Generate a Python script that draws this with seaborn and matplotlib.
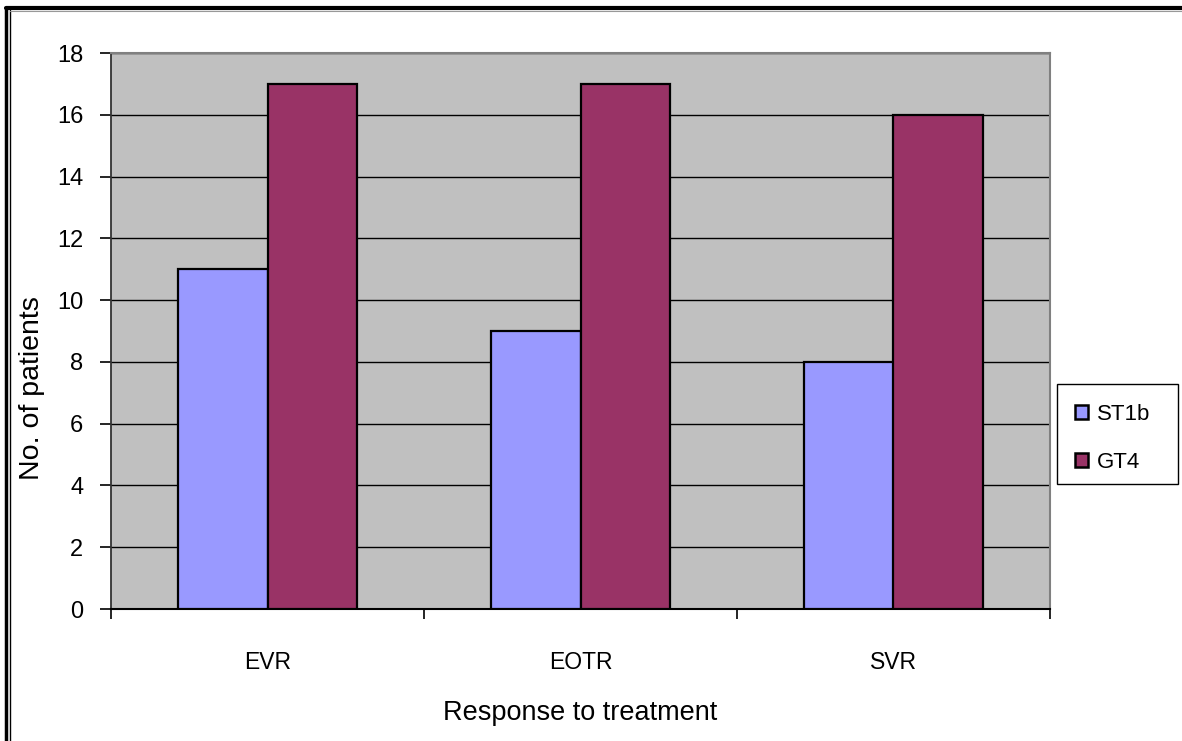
import matplotlib
matplotlib.use("Agg")
import matplotlib.pyplot as plt
from matplotlib.lines import Line2D
from matplotlib.patches import Rectangle
import seaborn as sns
import pandas as pd

categories = ["EVR", "EOTR", "SVR"]
st1b = [11, 9, 8]
gt4 = [17, 17, 16]
series_names = ["ST1b", "GT4"]
y_ticks = [0, 2, 4, 6, 8, 10, 12, 14, 16, 18]

df = pd.DataFrame({
    "Response": categories * 2,
    "Patients": st1b + gt4,
    "Genotype": [series_names[0]] * 3 + [series_names[1]] * 3,
})

sns.set_theme(style="white")
plt.rcParams["font.family"] = ["Liberation Sans", "DejaVu Sans"]
plt.rcParams.update({"text.color": "black", "axes.labelcolor": "black",
                     "xtick.color": "black", "ytick.color": "black"})

W, H = 1182, 741
fig = plt.figure(figsize=(W / 100, H / 100), dpi=100)
ax = fig.add_axes([111 / W, 1 - 609 / H, (1050 - 111) / W, (609 - 53) / H])
ax.set_facecolor("#C0C0C0")

sns.barplot(data=df, x="Response", y="Patients", hue="Genotype",
            palette=["#9999FF", "#993366"], width=0.575, dodge=True,
            edgecolor="black", linewidth=1.6, saturation=1, ax=ax, zorder=3)

ax.set_xlim(-0.5, 2.5)
ax.set_ylim(0, 18)
ax.set_yticks(y_ticks)
ax.yaxis.grid(True, color="black", linewidth=1.0, zorder=0)
ax.set_axisbelow(True)

# category labels at centres, tick marks at the category boundaries
ax.set_xticks([0, 1, 2])
ax.set_xticklabels(categories)
ax.set_xticks([-0.5, 0.5, 1.5, 2.5], minor=True)
ax.tick_params(axis="x", which="major", length=0, pad=30, labelsize=16.5, labelcolor="black")
ax.tick_params(axis="x", which="minor", length=7, width=1.2, color="black", direction="out")
ax.tick_params(axis="y", length=8, width=1.2, color="black", direction="out", pad=12,
               labelsize=17, labelcolor="black")
ax.tick_params(left=True, bottom=True)
ax.xaxis.set_tick_params(which="minor", bottom=True)

ax.set_xlabel("Response to treatment", fontsize=19.5, labelpad=19, color="black")
ax.set_ylabel("No. of patients", fontsize=20.5, color="black")
ax.yaxis.set_label_coords(-0.0703, 0.397)

for side in ["top", "right"]:
    ax.spines[side].set_color("#808080")
    ax.spines[side].set_linewidth(1.5)
ax.spines["left"].set_color("#333333")
ax.spines["left"].set_linewidth(1.3)
ax.spines["bottom"].set_color("black")
ax.spines["bottom"].set_linewidth(1.5)

# legend entries without their own frame, boxed separately
leg = ax.legend(loc="upper left", bbox_to_anchor=(1075 / W, 1 - 404 / H),
                bbox_transform=fig.transFigure, frameon=False,
                fontsize=16, handlelength=0.58, handleheight=0.58, handletextpad=0.42,
                labelspacing=1.2, borderpad=0, borderaxespad=0)
for h in leg.legend_handles:
    h.set_edgecolor("black")
    h.set_linewidth(1.8)
for t in leg.get_texts():
    t.set_color("black")
fig.add_artist(Rectangle((1057 / W, 1 - 484 / H), (1178 - 1057) / W, 100 / H,
                         transform=fig.transFigure, facecolor="white",
                         edgecolor="black", linewidth=1.0, zorder=0))

# chart-area frame: double rule on the left, heavy rule on top
fig.add_artist(Line2D([6 / W, 6 / W], [0, 1 - 7.5 / H], color="black", lw=2.5, transform=fig.transFigure))
fig.add_artist(Line2D([6 / W, 1], [1 - 7.5 / H, 1 - 7.5 / H], color="black", lw=3.0, transform=fig.transFigure))
fig.add_artist(Line2D([9.8 / W, 9.8 / W], [0, 1 - 10 / H], color="black", lw=1.0, transform=fig.transFigure))
fig.add_artist(Line2D([9.8 / W, 1], [1 - 10.5 / H, 1 - 10.5 / H], color="#999999", lw=0.8, transform=fig.transFigure))

fig.savefig("out.png", dpi=100, facecolor="white")
